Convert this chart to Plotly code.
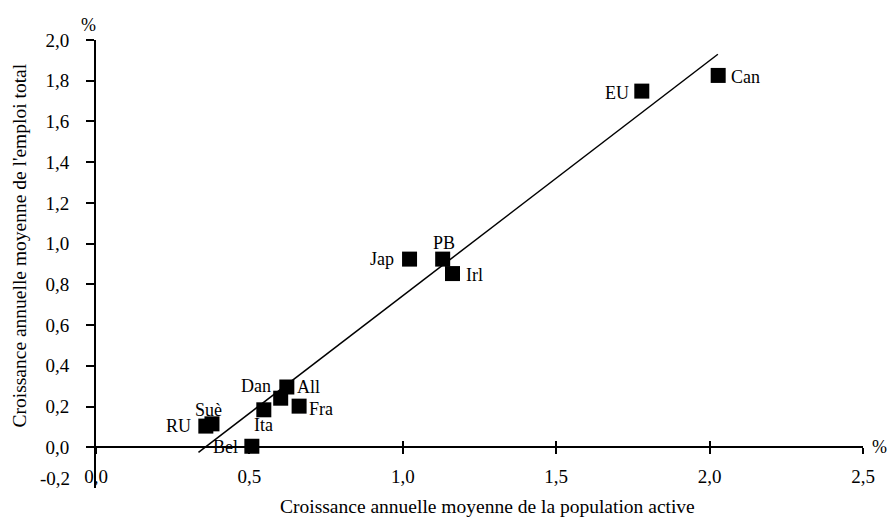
import plotly.graph_objects as go

# ---- data ----
countries = ["Can", "EU", "Jap", "PB", "Irl", "All", "Dan", "Fra", "Ita", "Bel", "Suè", "RU"]
labour_force_growth = [2.028, 1.779, 1.022, 1.130, 1.162, 0.622, 0.602, 0.662, 0.547, 0.508, 0.378, 0.358]
employment_growth = [1.826, 1.749, 0.924, 0.924, 0.853, 0.296, 0.241, 0.202, 0.184, 0.005, 0.115, 0.104]

trend_x = [0.334, 2.027]
trend_y = [-0.025, 1.930]

x_ticks = [0.0, 0.5, 1.0, 1.5, 2.0, 2.5]
x_tick_labels = ["0,0", "0,5", "1,0", "1,5", "2,0", "2,5"]
y_ticks = [0.0, 0.2, 0.4, 0.6, 0.8, 1.0, 1.2, 1.4, 1.6, 1.8, 2.0]
y_tick_labels = ["0,0", "0,2", "0,4", "0,6", "0,8", "1,0", "1,2", "1,4", "1,6", "1,8", "2,0"]
y_bottom_label = "-0,2"

x_title = "Croissance annuelle moyenne de la population active"
y_title = "Croissance annuelle moyenne de l'emploi total"

# ---- styles ----
FONT = "Liberation Serif, Times New Roman, serif"
X_RANGE = [0, 2.5]
Y_RANGE = [-0.2, 2.0]
# label placement per country: (xanchor, xshift, yshift)
label_pos = {
    "Can": ("left", 11, -2),
    "EU": ("right", -11, -2),
    "Jap": ("right", -14, 0),
    "PB": ("center", 1, 16),
    "Irl": ("left", 11, -1),
    "All": ("left", 8, 0),
    "Dan": ("right", -8, 12),
    "Fra": ("left", 8, -3),
    "Ita": ("center", 0, -15),
    "Bel": ("right", -12, -1),
    "Suè": ("center", -3, 14),
    "RU": ("right", -13, 0),
}

fig = go.Figure()

fig.add_trace(go.Scatter(
    x=trend_x, y=trend_y, mode="lines",
    line=dict(color="black", width=1.5),
    showlegend=False, hoverinfo="skip",
))
fig.add_trace(go.Scatter(
    x=labour_force_growth, y=employment_growth, mode="markers",
    marker=dict(symbol="square", size=15, color="black", line=dict(width=0)),
    text=countries, showlegend=False,
))
# invisible helper trace so the second (inside-tick) x axis is drawn
fig.add_trace(go.Scatter(
    x=labour_force_growth, y=employment_growth, mode="markers",
    marker=dict(opacity=0), xaxis="x2", showlegend=False, hoverinfo="skip",
))

for c, xv, yv in zip(countries, labour_force_growth, employment_growth):
    anchor, dx, dy = label_pos[c]
    fig.add_annotation(
        x=xv, y=yv, xref="x", yref="y", text=c, showarrow=False,
        xanchor=anchor, yanchor="middle", xshift=dx, yshift=dy,
        font=dict(family=FONT, size=18, color="black"),
    )

x_pos = (0 - Y_RANGE[0]) / (Y_RANGE[1] - Y_RANGE[0])

axis_font = dict(family=FONT, size=19, color="black")
title_font = dict(family=FONT, size=19.5, color="black")

fig.update_layout(
    width=887, height=524,
    margin=dict(l=96, r=24, t=40, b=36),
    paper_bgcolor="white", plot_bgcolor="white",
    font=dict(family=FONT, color="black"),
    xaxis=dict(
        range=X_RANGE, anchor="free", position=x_pos,
        showline=True, linecolor="black", linewidth=2,
        ticks="outside", ticklen=6, tickwidth=2, tickcolor="black",
        tickvals=x_ticks, ticktext=x_tick_labels, tickfont=axis_font,
        ticklabelstandoff=6,
        showgrid=False, zeroline=False, fixedrange=True,
    ),
    xaxis2=dict(
        range=X_RANGE, overlaying="x", anchor="free", position=x_pos,
        showline=False, ticks="inside", ticklen=6, tickwidth=2, tickcolor="black",
        tickvals=x_ticks[1:], showticklabels=False,
        showgrid=False, zeroline=False, fixedrange=True,
    ),
    yaxis=dict(
        range=Y_RANGE,
        showline=True, linecolor="black", linewidth=2,
        ticks="outside", ticklen=8, tickwidth=2, tickcolor="black",
        tickvals=y_ticks, ticktext=y_tick_labels, tickfont=axis_font,
        ticklabelstandoff=13,
        showgrid=False, zeroline=False, fixedrange=True,
    ),
)

# bottom y label, lifted above the bottom edge as in the original
fig.add_annotation(
    x=0, y=Y_RANGE[0], xref="x", yref="y", text=y_bottom_label, showarrow=False,
    xanchor="right", yanchor="middle", xshift=-24, yshift=10, font=axis_font,
)
# unit markers
fig.add_annotation(
    x=0, y=Y_RANGE[1], xref="x", yref="y", text="%", showarrow=False,
    xanchor="center", yanchor="middle", xshift=-8, yshift=15, font=dict(family=FONT, size=18),
)
fig.add_annotation(
    x=X_RANGE[1], y=0, xref="x", yref="y", text="%", showarrow=False,
    xanchor="left", yanchor="middle", xshift=7, yshift=0, font=dict(family=FONT, size=18),
)
# axis titles
fig.add_annotation(
    x=0.51, y=-0.042, xref="paper", yref="paper", text=x_title, showarrow=False,
    xanchor="center", yanchor="middle", font=title_font,
)
fig.add_annotation(
    x=-0.1, y=0.542, xref="paper", yref="paper", text=y_title, showarrow=False,
    textangle=-90, xanchor="center", yanchor="middle", font=title_font,
)

fig.write_html("out.html")
